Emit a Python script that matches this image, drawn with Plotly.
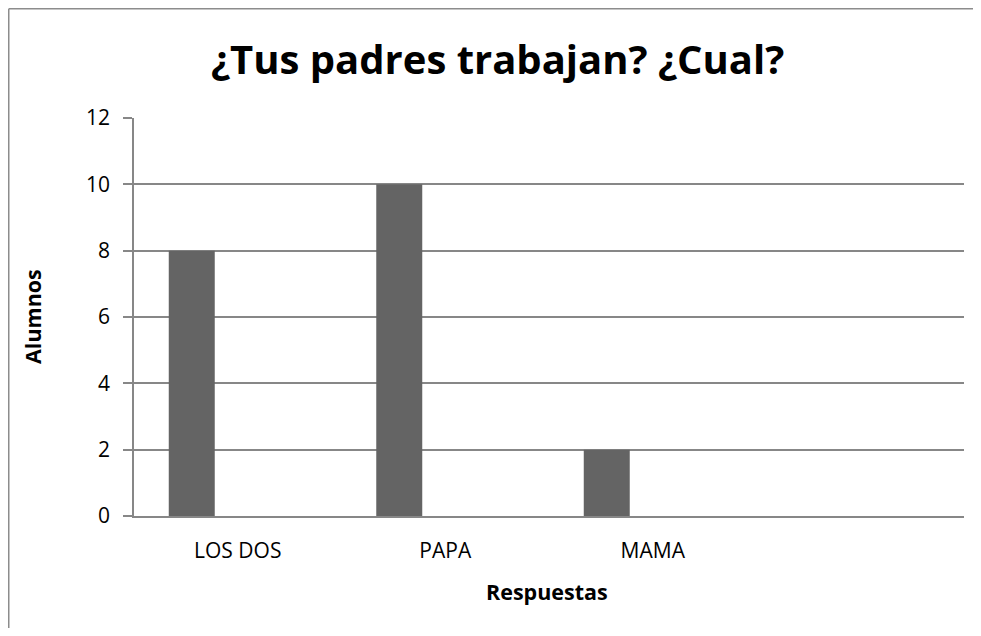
import plotly.graph_objects as go

categories = ["LOS DOS", "PAPA", "MAMA", " "]
series1 = [8, 10, 2, None]
series2 = [None, None, None, None]
series3 = [None, None, None, None]
y_ticks = [0, 2, 4, 6, 8, 10, 12]

title_text = "¿Tus padres trabajan? ¿Cual?"
x_title = "Respuestas"
y_title = "Alumnos"

OFF = 8  # page body margin
W, H = 981 - 2 * OFF, 636 - 2 * OFF
# plot area in page coordinates
PX0, PX1, PY0, PY1 = 134, 964, 118, 516
L, T = PX0 - OFF, PY0 - OFF
R = W - (PX1 - OFF)
B = H - (PY1 - OFF)
pw, ph = PX1 - PX0, PY1 - PY0

def px(x):
    return (x - PX0) / pw

def py(y):
    return (PY1 - y) / ph

font = "Open Sans"
bar_color = "#646464"
grid = "#878787"

fig = go.Figure()
for s in (series1, series2, series3):
    fig.add_trace(go.Bar(x=categories, y=s, marker=dict(color=bar_color, line=dict(width=0)),
                         showlegend=False, hoverinfo="skip"))

fig.update_layout(
    width=W, height=H,
    margin=dict(l=L, r=R, t=T, b=B, pad=0),
    paper_bgcolor="white", plot_bgcolor="white",
    barmode="group", bargap=0.335, bargroupgap=0,
    font=dict(family=font, color="black"),
    xaxis=dict(type="category", categoryorder="array", categoryarray=categories,
               showgrid=False, showline=True, linecolor=grid, linewidth=1.5,
               ticks="", tickfont=dict(size=21, color="black"), ticklabelstandoff=15,
               zeroline=False, fixedrange=True),
    yaxis=dict(range=[0, 12], tickvals=y_ticks, showgrid=True, gridcolor=grid, gridwidth=1.5,
               showline=True, linecolor=grid, linewidth=1.5, ticks="outside", ticklen=9,
               tickcolor=grid, tickwidth=1.5, tickfont=dict(size=21, color="black"),
               ticklabelstandoff=9, zeroline=False, fixedrange=True),
    annotations=[
        dict(text="<b>" + title_text + "</b>", x=px(497), y=py(58), xref="paper", yref="paper",
             showarrow=False, font=dict(size=40, family=font, color="black"),
             xanchor="center", yanchor="middle"),
        dict(text="<b>" + y_title + "</b>", x=px(32), y=py(317), xref="paper", yref="paper",
             showarrow=False, textangle=-90, font=dict(size=21.5, family=font, color="black"),
             xanchor="center", yanchor="middle"),
        dict(text="<b>" + x_title + "</b>", x=px(547), y=py(591), xref="paper", yref="paper",
             showarrow=False, font=dict(size=21.5, family=font, color="black"),
             xanchor="center", yanchor="middle"),
    ],
    shapes=[
        dict(type="line", xref="paper", yref="paper", x0=px(8.75), x1=px(981), y0=py(8.75), y1=py(8.75),
             line=dict(color="#8c8c8c", width=1.5)),
        dict(type="line", xref="paper", yref="paper", x0=px(8.75), x1=px(8.75), y0=py(8.75), y1=py(636),
             line=dict(color="#8c8c8c", width=1.5)),
    ],
)

fig.write_html("out.html")
